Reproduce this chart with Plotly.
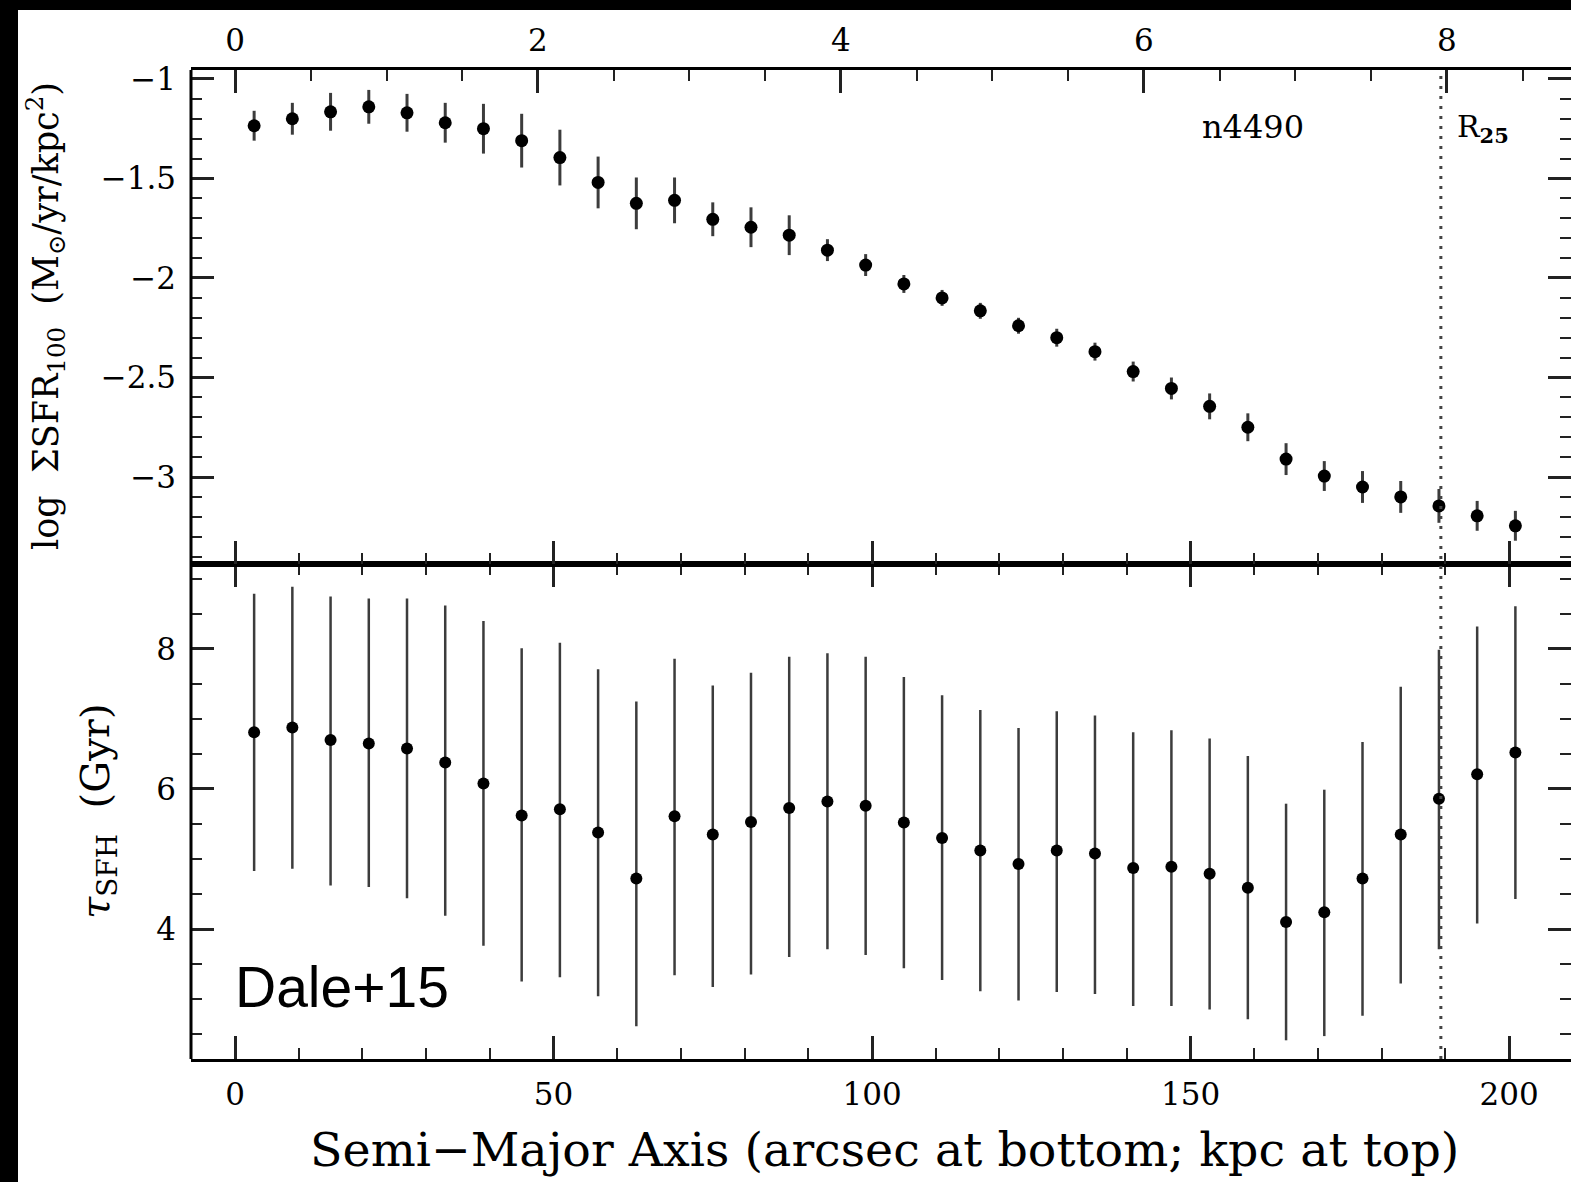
import plotly.graph_objects as go

# Radial bins along the semi-major axis (arcsec)
radius_arcsec = [3, 9, 15, 21, 27, 33, 39, 45, 51, 57, 63, 69, 75, 81, 87, 93, 99,
                 105, 111, 117, 123, 129, 135, 141, 147, 153, 159, 165, 171, 177,
                 183, 189, 195, 201]

# log star-formation-rate surface density (100 Myr) and its uncertainty
log_sfr100 = [-1.235, -1.20, -1.165, -1.14, -1.17, -1.22, -1.25, -1.31, -1.395, -1.52,
              -1.625, -1.61, -1.705, -1.745, -1.785, -1.86, -1.935, -2.03, -2.10, -2.165,
              -2.24, -2.30, -2.37, -2.47, -2.555, -2.645, -2.75, -2.91, -2.995, -3.05,
              -3.10, -3.145, -3.195, -3.245]
log_sfr100_err = [0.075, 0.08, 0.095, 0.085, 0.095, 0.10, 0.125, 0.135, 0.14, 0.13,
                  0.13, 0.115, 0.085, 0.10, 0.10, 0.055, 0.055, 0.045, 0.04, 0.04,
                  0.04, 0.045, 0.045, 0.05, 0.055, 0.065, 0.07, 0.08, 0.075, 0.08,
                  0.08, 0.085, 0.075, 0.075]

# SFH e-folding time (Gyr) with upper / lower bounds
tau_sfh = [6.81, 6.88, 6.70, 6.65, 6.58, 6.38, 6.08, 5.62, 5.71, 5.38, 4.72, 5.61,
           5.35, 5.53, 5.73, 5.82, 5.76, 5.52, 5.30, 5.12, 4.93, 5.12, 5.08, 4.87,
           4.89, 4.79, 4.59, 4.10, 4.24, 4.72, 5.35, 5.86, 6.21, 6.52]
tau_sfh_hi = [8.79, 8.89, 8.75, 8.72, 8.72, 8.62, 8.40, 8.01, 8.09, 7.71, 7.25, 7.86,
              7.48, 7.66, 7.89, 7.94, 7.89, 7.60, 7.34, 7.13, 6.87, 7.11, 7.05, 6.81,
              6.84, 6.72, 6.47, 5.79, 5.99, 6.67, 7.46, 7.99, 8.32, 8.61]
tau_sfh_lo = [4.83, 4.86, 4.62, 4.60, 4.44, 4.19, 3.76, 3.25, 3.31, 3.04, 2.61, 3.34,
              3.17, 3.35, 3.60, 3.71, 3.63, 3.44, 3.27, 3.11, 2.98, 3.10, 3.07, 2.90,
              2.90, 2.85, 2.71, 2.41, 2.47, 2.76, 3.22, 3.71, 4.08, 4.43]

galaxy_name = "n4490"
r25_arcsec = 189.3
arcsec_per_kpc = 23.78

x_range = [-6.91, 209.73]
kpc_range = [x_range[0] / arcsec_per_kpc, x_range[1] / arcsec_per_kpc]

SERIF = "DejaVu Serif"
TICK_FONT = dict(family=SERIF, size=31, color="black")
ERR_COLOR = "#3c3c3c"
split = 0.5005

fig = go.Figure()

fig.add_trace(go.Scatter(
    x=radius_arcsec, y=log_sfr100, mode="markers",
    marker=dict(size=13, color="black"),
    error_y=dict(type="data", array=log_sfr100_err, thickness=3, width=0, color=ERR_COLOR),
    xaxis="x2", yaxis="y2", showlegend=False,
))

# same radii expressed in kpc, only to carry the top axis
fig.add_trace(go.Scatter(
    x=[r / arcsec_per_kpc for r in radius_arcsec], y=log_sfr100, mode="markers",
    marker=dict(size=1, opacity=0), hoverinfo="skip",
    xaxis="x3", yaxis="y2", showlegend=False,
))

fig.add_trace(go.Scatter(
    x=radius_arcsec, y=tau_sfh, mode="markers",
    marker=dict(size=12, color="black"),
    error_y=dict(type="data",
                 array=[h - t for h, t in zip(tau_sfh_hi, tau_sfh)],
                 arrayminus=[t - l for t, l in zip(tau_sfh, tau_sfh_lo)],
                 thickness=2.5, width=0, color=ERR_COLOR),
    xaxis="x", yaxis="y", showlegend=False,
))

major = dict(ticks="inside", ticklen=23, tickwidth=2.5, tickcolor="#222")


def minor(dt):
    return dict(ticks="inside", dtick=dt, ticklen=11, tickwidth=2.2, tickcolor="#222")


common_x = dict(range=x_range, showgrid=False, zeroline=False, **major)

fig.update_layout(
    width=1571, height=1182,
    margin=dict(l=191, r=0, t=70, b=123),
    paper_bgcolor="white", plot_bgcolor="white",
    xaxis=dict(domain=[0, 1], anchor="y", tick0=0, dtick=50, minor=minor(10),
               showline=True, linewidth=3, linecolor="black", mirror="ticks",
               tickfont=TICK_FONT, ticklabelstandoff=6, **common_x),
    xaxis2=dict(domain=[0, 1], anchor="y2", matches="x", tick0=0, dtick=50,
                minor=minor(10), showline=True, linewidth=3, linecolor="black",
                showticklabels=False, **common_x),
    xaxis3=dict(overlaying="x2", anchor="y2", side="top", range=kpc_range,
                tick0=0, dtick=2, minor=minor(0.5), showgrid=False, zeroline=False,
                showline=True, linewidth=3, linecolor="black",
                tickfont=TICK_FONT, ticklabelstandoff=4, **major),
    yaxis=dict(domain=[0, split], anchor="x", range=[2.143, 9.214], tick0=0, dtick=2,
               minor=minor(0.5), showgrid=False, zeroline=False, showline=False,
               mirror="ticks", tickfont=TICK_FONT, ticklabelstandoff=14, **major),
    yaxis2=dict(domain=[split, 1], anchor="x2", range=[-3.437, -0.955], tick0=0,
                dtick=0.5, minor=minor(0.1), showgrid=False, zeroline=False,
                showline=False, mirror="ticks", tickfont=TICK_FONT,
                ticklabelstandoff=14, **major),
)

# frame pieces and the R25 marker
fig.add_shape(type="line", xref="paper", yref="paper", x0=0, x1=0, y0=0, y1=1,
              line=dict(color="black", width=3))
fig.add_shape(type="line", xref="x", yref="paper", x0=r25_arcsec, x1=r25_arcsec,
              y0=0, y1=1, line=dict(color="#444", width=3, dash="3px,7px"))

# dark border strips along the top and left of the canvas
fig.add_shape(type="rect", xref="paper", yref="paper",
              x0=-191 / 1380, x1=1.01, y0=1 + 60 / 989, y1=1 + 75 / 989,
              fillcolor="black", line=dict(width=0))
fig.add_shape(type="rect", xref="paper", yref="paper",
              x0=-191 / 1380, x1=-173 / 1380, y0=-123 / 989, y1=1 + 75 / 989,
              fillcolor="black", line=dict(width=0))

fig.add_annotation(text=galaxy_name, x=151.5, y=-1.241, xref="x2", yref="y2",
                   xanchor="left", yanchor="middle", showarrow=False,
                   font=dict(family=SERIF, size=32, color="black"))
fig.add_annotation(text="R<sub><b>25</b></sub>", x=191.5, y=-1.25, xref="x2", yref="y2",
                   xanchor="left", yanchor="middle", showarrow=False,
                   font=dict(family=SERIF, size=30, color="black"))
fig.add_annotation(text="Dale+15", x=-0.3, y=3.17, xref="x", yref="y",
                   xanchor="left", yanchor="middle", showarrow=False,
                   font=dict(family="Liberation Sans", size=57, color="black"))

fig.add_annotation(
    text="log\u00a0\u00a0\u03a3SFR<sub>100</sub>\u00a0\u00a0(M<sub>\u2299</sub>/yr/kpc<sup>2</sup>)",
    x=(45 - 191) / 1380, y=(1059 - 316) / 989, xref="paper", yref="paper",
    xanchor="center", yanchor="middle", textangle=-90, showarrow=False,
    font=dict(family=SERIF, size=35, color="black"))
fig.add_annotation(
    text="<i>\u03c4</i><sub>SFH</sub>\u00a0\u00a0(Gyr)",
    x=(98 - 191) / 1380, y=(1059 - 812) / 989, xref="paper", yref="paper",
    xanchor="center", yanchor="middle", textangle=-90, showarrow=False,
    font=dict(family=SERIF, size=40, color="black"))
fig.add_annotation(
    text="Semi\u2212Major Axis (arcsec at bottom; kpc at top)",
    x=(884.5 - 191) / 1380, y=(1059 - 1149.5) / 989, xref="paper", yref="paper",
    xanchor="center", yanchor="middle", showarrow=False,
    font=dict(family=SERIF, size=47.5, color="black"))

fig.write_html("out.html")
